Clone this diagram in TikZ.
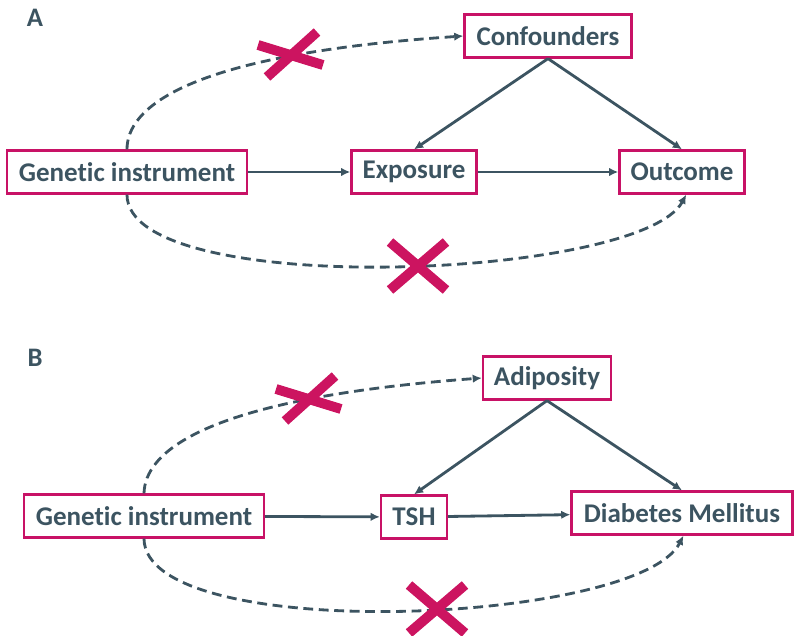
\documentclass[tikz,border=0pt]{standalone}
\usepackage{fontspec}
\setmainfont[Ligatures=NoCommon]{Carlito}
\usetikzlibrary{arrows.meta}
\definecolor{slate}{RGB}{60,84,97}
\definecolor{boxred}{RGB}{200,18,102}
\definecolor{crossred}{RGB}{204,20,96}

\begin{document}
\begin{tikzpicture}[x=0.025cm, y=-0.025cm,
	box/.style={draw=boxred, line width=1.6pt, fill=white, text=slate, font=\fontsize{19.2}{23}\selectfont\bfseries, minimum height=1.075cm, inner sep=0pt},
	arr/.style={draw=slate, line width=2pt, -{Latex[length=6.5pt,width=6pt]}},
	maybe/.style={arr, dash pattern=on 7pt off 4pt},
	nope/.style={draw=crossred, line width=7pt}]
	\useasboundingbox (0,0) rectangle (795,636);
	%panel A
	\node[text=slate, font=\fontsize{19}{22}\selectfont\bfseries] (labA) at (35,18) {A};
	\node[box, minimum width=6cm] (giA) at (127,172) {Genetic instrument};
	\node[box, minimum width=3.125cm] (expo) at (414,172) {Exposure};
	\node[box, minimum width=3.125cm] (outc) at (682,172) {Outcome};
	\node[box, minimum width=4.175cm] (conf) at (548,36) {Confounders};
	\draw[arr] (giA) -- (expo);
	\draw[arr] (expo) -- (outc);
	\draw[arr] (conf.south) -- (expo.north);
	\draw[arr] (conf.south) -- (outc.north);
	\draw[maybe] (giA.north) .. controls (127,110) and (180,55) .. (conf.west);
	\draw[maybe] (giA.south) .. controls (127,300) and (640,280) .. ([xshift=3]outc.south);
	%panel B
	\node[text=slate, font=\fontsize{19}{22}\selectfont\bfseries] (labB) at (35,358) {B};
	\node[box, minimum width=6cm] (giB) at (144,516) {Genetic instrument};
	\node[box, minimum width=1.65cm] (tsh) at (414,517) {TSH};
	\node[box, minimum width=5.525cm] (dm) at (682,513) {Diabetes Mellitus};
	\node[box, minimum width=3.2cm] (adip) at (547,378) {Adiposity};
	\draw[arr] (giB) -- (tsh);
	\draw[arr] (tsh) -- (dm);
	\draw[arr] (adip.south) -- (tsh.north);
	\draw[arr] (adip.south) -- (dm.north);
	\draw[maybe] (giB.north) .. controls (145,454) and (198,399) .. (adip.west);
	\draw[maybe] (giB.south) .. controls (145,645) and (638,625) .. ([xshift=1]dm.south);
	%crosses
	\foreach \cx/\cy in {290/55, 308/399}{
		\draw[nope] (\cx-32,\cy-10) -- (\cx+33,\cy+10);
		\draw[nope] (\cx-23,\cy+22) -- (\cx+27,\cy-23);
	}
	\foreach \cx/\cy in {418/266, 437/609}{
		\draw[nope] (\cx-28,\cy-24) -- (\cx+28,\cy+24);
		\draw[nope] (\cx-28,\cy+24) -- (\cx+28,\cy-24);
	}
\end{tikzpicture}
\end{document}
